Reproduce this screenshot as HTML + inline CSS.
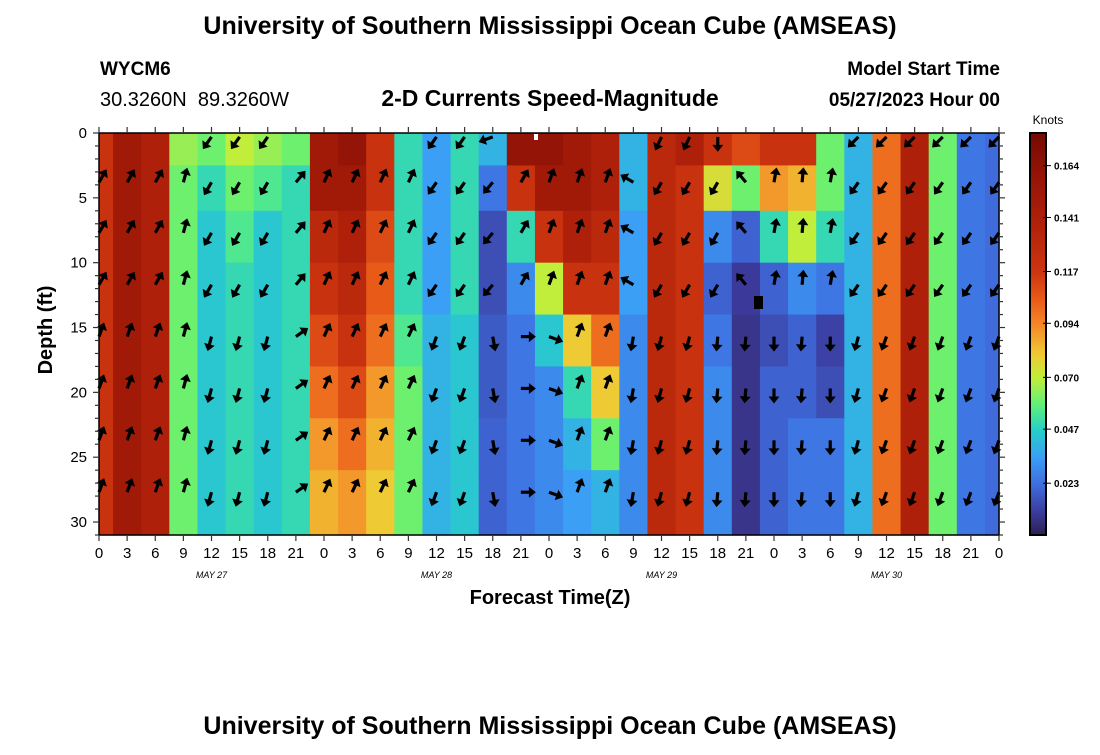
<!DOCTYPE html>
<html><head><meta charset="utf-8">
<style>
html,body{margin:0;padding:0;background:#fff;}
body{width:1100px;height:750px;overflow:hidden;font-family:"Liberation Sans",Arial,sans-serif;}
svg text{font-family:"Liberation Sans",Arial,sans-serif;}
</style></head>
<body>
<svg id="chart" width="1100" height="750" viewBox="0 0 1100 750" xmlns="http://www.w3.org/2000/svg">
<text x="550" y="34" text-anchor="middle" font-size="25" font-weight="bold">University of Southern Mississippi Ocean Cube (AMSEAS)</text>
<text x="100" y="75" font-size="19" font-weight="bold">WYCM6</text>
<text x="100" y="106" font-size="20">30.3260N&#160;&#160;89.3260W</text>
<text x="550" y="106" text-anchor="middle" font-size="23" font-weight="bold">2-D Currents Speed-Magnitude</text>
<text x="1000" y="75" text-anchor="end" font-size="19" font-weight="bold">Model Start Time</text>
<text x="1000" y="106" text-anchor="end" font-size="19" font-weight="bold">05/27/2023 Hour 00</text>
<g id="heat"></g>
<g id="arrows"></g>
<rect x="754" y="296" width="9" height="13" fill="#000"/>
<rect x="534" y="134" width="4" height="6" fill="#fff"/>
<g id="axes"></g>
<text x="550" y="604" text-anchor="middle" font-size="20" font-weight="bold">Forecast Time(Z)</text>
<text transform="translate(52,330) rotate(-90)" text-anchor="middle" font-size="20" font-weight="bold">Depth (ft)</text>
<g id="cbar"></g>
<text x="1048" y="124" text-anchor="middle" font-size="12">Knots</text>
<text x="550" y="734" text-anchor="middle" font-size="25" font-weight="bold">University of Southern Mississippi Ocean Cube (AMSEAS)</text>
</svg>
<script>
// ---- data ----
const hours = [0,3,6,9,12,15,18,21,24,27,30,33,36,39,42,45,48,51,54,57,60,63,66,69,72,75,78,81,84,87,90,93,96];
const depths = [1,4,8,12,16,20,24,28];
// speed (knots) per depth row, one entry per hour column
const speed_d1  = [0.12,0.15,0.14,0.065,0.06,0.07,0.065,0.06,0.15,0.16,0.12,0.05,0.035,0.05,0.04,0.16,0.16,0.15,0.14,0.04,0.13,0.14,0.12,0.11,0.12,0.12,0.06,0.04,0.10,0.14,0.06,0.025,0.022];
const speed_d4  = [0.12,0.15,0.14,0.06,0.05,0.06,0.055,0.05,0.15,0.15,0.12,0.05,0.035,0.05,0.025,0.12,0.15,0.15,0.14,0.04,0.13,0.12,0.075,0.06,0.09,0.085,0.06,0.04,0.10,0.14,0.06,0.025,0.022];
const speed_d8  = [0.12,0.15,0.14,0.06,0.045,0.055,0.045,0.05,0.13,0.14,0.11,0.05,0.035,0.05,0.015,0.05,0.12,0.14,0.13,0.035,0.13,0.12,0.03,0.02,0.05,0.07,0.05,0.04,0.10,0.14,0.06,0.025,0.022];
const speed_d12 = [0.12,0.15,0.14,0.06,0.045,0.05,0.045,0.05,0.12,0.13,0.105,0.05,0.035,0.05,0.015,0.03,0.07,0.12,0.12,0.035,0.13,0.12,0.02,0.01,0.02,0.03,0.025,0.04,0.10,0.14,0.06,0.025,0.022];
const speed_d16 = [0.12,0.15,0.14,0.06,0.045,0.05,0.045,0.05,0.11,0.12,0.10,0.055,0.04,0.045,0.018,0.025,0.045,0.08,0.10,0.03,0.13,0.12,0.025,0.008,0.015,0.02,0.012,0.04,0.10,0.14,0.06,0.025,0.022];
const speed_d20 = [0.12,0.15,0.14,0.06,0.045,0.05,0.045,0.05,0.10,0.11,0.09,0.06,0.04,0.045,0.018,0.025,0.03,0.05,0.08,0.03,0.13,0.12,0.03,0.008,0.02,0.02,0.015,0.04,0.10,0.14,0.06,0.025,0.022];
const speed_d24 = [0.12,0.15,0.14,0.06,0.045,0.05,0.045,0.05,0.09,0.10,0.085,0.06,0.04,0.045,0.02,0.025,0.03,0.04,0.06,0.03,0.13,0.12,0.03,0.008,0.02,0.025,0.025,0.04,0.10,0.14,0.06,0.025,0.022];
const speed_d28 = [0.12,0.15,0.14,0.06,0.045,0.05,0.045,0.05,0.085,0.09,0.08,0.06,0.04,0.045,0.02,0.025,0.03,0.035,0.04,0.03,0.13,0.12,0.03,0.008,0.02,0.025,0.025,0.04,0.10,0.14,0.06,0.025,0.022];
// arrow directions (deg clockwise from north)
const arrowDepths = [3.8,7.7,11.7,15.7,19.7,23.7,27.7];
const dirUpper = [30,30,30,15,210,210,210,40,25,25,25,25,215,215,220,30,20,20,20,300,210,210,210,320,10,5,10,215,215,215,215,215,215];
const dirLower = [20,20,20,15,195,195,195,55,25,25,25,25,200,200,170,90,110,20,20,190,195,195,185,185,180,185,180,195,200,200,200,200,200];
const surfaceArrowHours = [12,15,18,36,39,42,60,63,66,81,84,87,90,93,96];
const surfaceArrowDirs  = [215,215,215,215,215,250,205,205,180,225,225,225,225,225,225];
const yTicks = [0,5,10,15,20,25,30];
const xTickLabels = ["0","3","6","9","12","15","18","21"];
const dayLabels = ["MAY 27","MAY 28","MAY 29","MAY 30"];
const cbarTicks = [0.023,0.047,0.070,0.094,0.117,0.141,0.164];

// ---- scales ----
const X0=99, X1=999, Y0=133, Y1=535, DMAX=31;
const xs = h => X0 + h*(X1-X0)/96;
const ys = d => Y0 + d*(Y1-Y0)/DMAX;
const NS="http://www.w3.org/2000/svg";
function mk(tag, parent, attrs){const e=document.createElementNS(NS,tag);for(const k in attrs)e.setAttribute(k,attrs[k]);parent.appendChild(e);return e;}
const stops=[[0,[46,31,79]],[0.01,[59,58,154]],[0.023,[63,111,224]],[0.035,[58,159,245]],[0.047,[39,207,201]],[0.058,[94,240,122]],[0.07,[192,238,58]],[0.08,[238,203,53]],[0.094,[245,133,39]],[0.105,[232,90,24]],[0.117,[204,53,16]],[0.141,[173,31,10]],[0.164,[143,18,6]],[0.179,[115,10,4]]];
function color(v){
  if(v<=stops[0][0])return `rgb(${stops[0][1]})`;
  for(let i=1;i<stops.length;i++){if(v<=stops[i][0]){const a=stops[i-1],b=stops[i],t=(v-a[0])/(b[0]-a[0]);
    return `rgb(${a[1].map((c,j)=>Math.round(c+(b[1][j]-c)*t)).join(',')})`;}}
  return `rgb(${stops[stops.length-1][1]})`;
}

// ---- heatmap ----
const rowsData=[speed_d1,speed_d4,speed_d8,speed_d12,speed_d16,speed_d20,speed_d24,speed_d28];
const heat=document.getElementById('heat');
const bandEdges=[0];
for(let i=0;i<depths.length-1;i++)bandEdges.push((depths[i]+depths[i+1])/2);
bandEdges.push(DMAX);
rowsData.forEach((row,ri)=>{
  row.forEach((v,ci)=>{
    const h=hours[ci];
    const xa=Math.max(X0,xs(h-1.5)), xb=Math.min(X1,xs(h+1.5));
    const r=mk('rect',heat,{x:xa,y:ys(bandEdges[ri]),width:xb-xa+0.6,height:ys(bandEdges[ri+1])-ys(bandEdges[ri])+0.6,fill:color(v)});
    
    
  });
});

// ---- arrows ----
const arr=document.getElementById('arrows');
function arrow(h,d,deg){
  const L=15, x=xs(h), y=ys(d);
  const g=mk('g',arr,{transform:`translate(${x},${y}) rotate(${deg})`});
  
  
  mk('line',g,{x1:0,y1:0,x2:0,y2:-L+5,stroke:'#000','stroke-width':3.2});
  mk('polygon',g,{points:`0,${-L} -5.5,${-L+7} 5.5,${-L+7}`,fill:'#000'});
}
hours.forEach((h,ci)=>{
  arrowDepths.forEach((d,ri)=>{arrow(h,d, ri<3?dirUpper[ci]:dirLower[ci]);});
});
surfaceArrowHours.forEach((h,i)=>arrow(h,0.3,surfaceArrowDirs[i]));

// ---- axes ----
const ax=document.getElementById('axes');
mk('rect',ax,{x:X0,y:Y0,width:X1-X0,height:Y1-Y0,fill:'none',stroke:'#000','stroke-width':1.5});
for(let d=0;d<=DMAX;d++){
  const y=ys(d), len=(d%5===0)?6:4;
  mk('line',ax,{x1:X0-len,y1:y,x2:X0,y2:y,stroke:'#333','stroke-width':1.2});
  mk('line',ax,{x1:X1,y1:y,x2:X1+len,y2:y,stroke:'#333','stroke-width':1.2});
}
yTicks.forEach(d=>{
  const t=mk('text',ax,{x:X0-12,y:ys(d)+5,'text-anchor':'end','font-size':15});
  t.textContent=d;
  
  
});
for(let h=0;h<=96;h+=3){
  const x=xs(h);
  mk('line',ax,{x1:x,y1:Y0-6,x2:x,y2:Y0,stroke:'#333','stroke-width':1.2});
  mk('line',ax,{x1:x,y1:Y1,x2:x,y2:Y1+6,stroke:'#333','stroke-width':1.2});
  const t=mk('text',ax,{x:x,y:Y1+23,'text-anchor':'middle','font-size':15});
  t.textContent=(h===96)?"0":xTickLabels[(h/3)%8];
  
  
}
dayLabels.forEach((s,i)=>{
  const t=mk('text',ax,{x:xs(i*24+12),y:Y1+43,'text-anchor':'middle','font-size':9,'font-style':'italic','font-family':'"Liberation Mono",monospace'});
  t.textContent=s;
  
  
});

// ---- colorbar ----
const cb=document.getElementById('cbar');
const CX=1030,CW=16,CB0=535,CT=133,VMAX=0.1785;
const cy=v=>CB0-v*(CB0-CT)/VMAX;
for(let i=0;i<200;i++){
  const v0=i*VMAX/200, v1=(i+1)*VMAX/200;
  mk('rect',cb,{x:CX,y:cy(v1),width:CW,height:cy(v0)-cy(v1)+0.5,fill:color((v0+v1)/2)});
}
mk('rect',cb,{x:CX,y:CT,width:CW,height:CB0-CT,fill:'none',stroke:'#000','stroke-width':2});
cbarTicks.forEach(v=>{
  const y=cy(v);
  mk('line',cb,{x1:CX+CW-3,y1:y,x2:CX+CW+5,y2:y,stroke:'#000','stroke-width':1});
  const t=mk('text',cb,{x:CX+CW+8,y:y+4,'font-size':10,'font-weight':'bold'});
  t.textContent=v.toFixed(3);
  
  
});
</script>
</body></html>
